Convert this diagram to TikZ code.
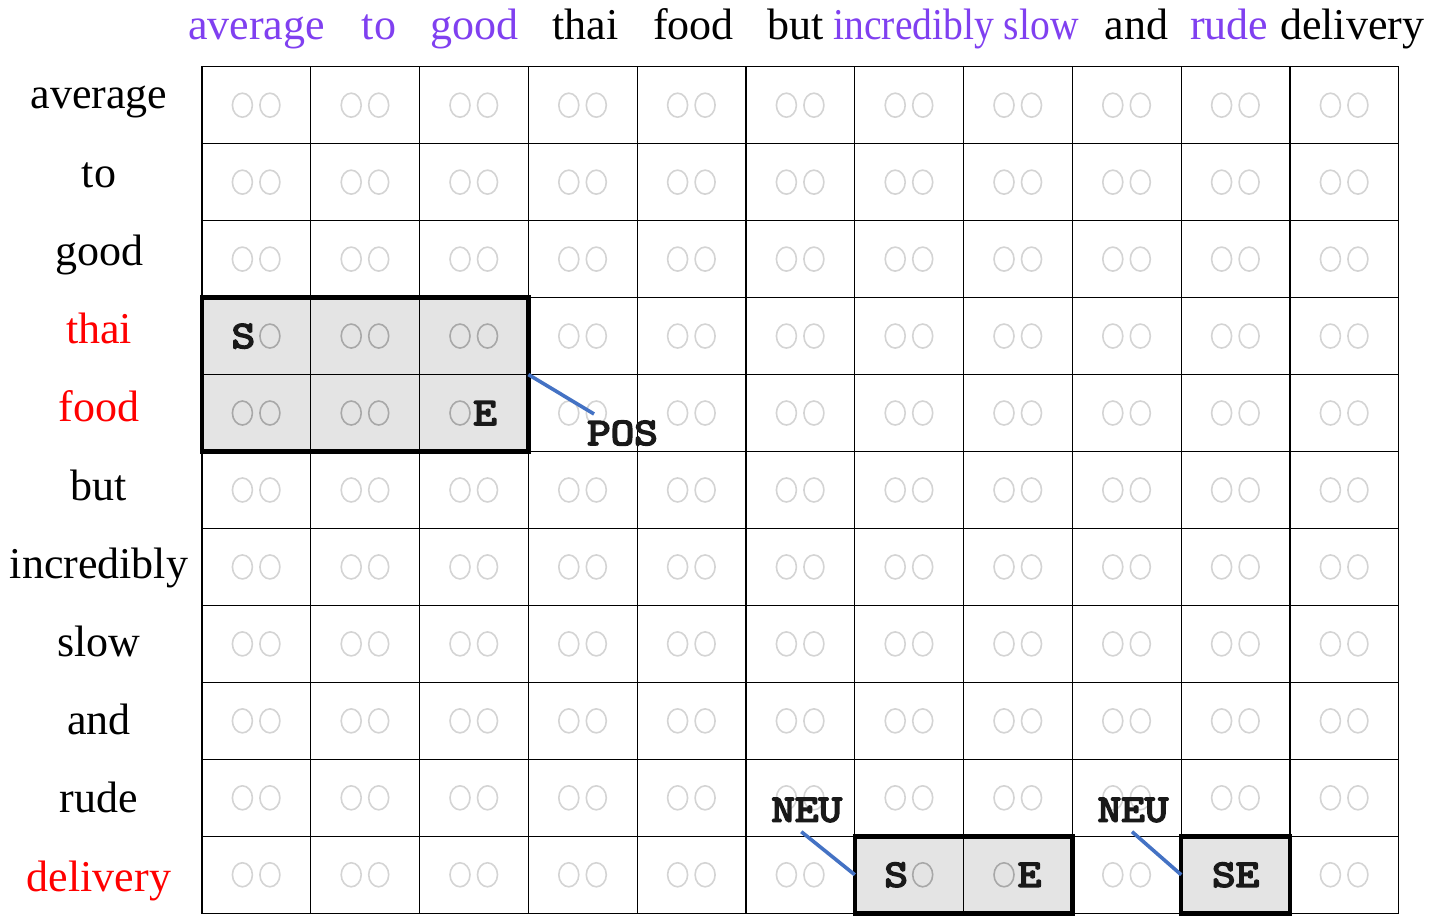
\documentclass[tikz,border=0pt]{standalone}
\usepackage{fontspec}
\setmainfont{Liberation Serif}
\newfontfamily\monob[FakeBold=4]{lmmono10-regular.otf}
\usepackage{graphicx}
\usetikzlibrary{fit}
\definecolor{purp}{RGB}{128,64,240}
\definecolor{hlgray}{RGB}{228,228,228}
\definecolor{lightc}{RGB}{212,212,212}
\definecolor{darkc}{RGB}{168,168,168}
\definecolor{lineblue}{RGB}{68,114,196}
\newcommand{\tg}[1]{\scalebox{1.15}[1]{#1}}
\tikzset{
  cell/.style={rectangle, draw=black, line width=1.2pt, minimum width=108.8pt, minimum height=76.96pt, inner sep=0pt, outer sep=0pt},
  word/.style={font=\fontsize{44}{50}\selectfont, inner sep=0pt, anchor=base},
  tag/.style={font=\monob\fontsize{39}{46}\selectfont, inner sep=0pt, anchor=base, text=black!90},
  hlbox/.style={draw=black, line width=4.5pt, inner sep=0pt, outer sep=0pt},
  conn/.style={draw=lineblue, line width=3.6pt},
  slot/.style={line width=1.6pt},
}
\begin{document}
\begin{tikzpicture}[x=1pt,y=-1pt]
\useasboundingbox (0,0) rectangle (1437,923);
% cells with slots
\foreach \r in {0,...,10} {
  \foreach \c in {0,...,10} {
    \pgfmathsetmacro\cx{202+108.8*(\c+0.5)}
    \pgfmathsetmacro\cy{66.7+76.96*(\r+0.5)}
    \pgfmathtruncatemacro\hl{or(and(or(\r==3,\r==4),\c<3),and(\r==10,or(or(\c==6,\c==7),\c==9)))}
    \pgfmathtruncatemacro\noL{or(and(\r==3,\c==0),and(\r==10,or(\c==6,\c==9)))}
    \pgfmathtruncatemacro\noR{or(and(\r==4,\c==2),and(\r==10,or(\c==7,\c==9)))}
    \ifnum\hl=1 \def\cf{hlgray}\def\sc{darkc}\else\def\cf{white}\def\sc{lightc}\fi
    \node[cell, fill=\cf] (cell-\r-\c) at (\cx,\cy) {};
    \ifnum\noL=0 \draw[slot, draw=\sc] ([xshift=-14pt]cell-\r-\c.center) ellipse [x radius=10pt, y radius=12pt];\fi
    \ifnum\noR=0 \draw[slot, draw=\sc] ([xshift=13.5pt]cell-\r-\c.center) ellipse [x radius=10pt, y radius=12pt];\fi
  }
}
% highlighted spans
\node[hlbox, fit=(cell-3-0)(cell-4-2)] (box1) {};
\node[hlbox, fit=(cell-10-6)(cell-10-7)] (box2) {};
\node[hlbox, fit=(cell-10-9)] (box3) {};
% start / end markers
\node[tag] (s1) at ([xshift=-13pt,yshift=-12pt]cell-3-0.center) {\tg{S}};
\node[tag] (e1) at ([xshift=11pt,yshift=-12pt]cell-4-2.center) {\tg{E}};
\node[tag] (s2) at ([xshift=-13pt,yshift=-12pt]cell-10-6.center) {\tg{S}};
\node[tag] (e2) at ([xshift=11.5pt,yshift=-12pt]cell-10-7.center) {\tg{E}};
\node[tag] (se3) at ([yshift=-12pt]cell-10-9.center) {\tg{SE}};
% polarity labels
\node[tag, anchor=base west] (pos) at (587,445) {\tg{POS}};
\coordinate (posend) at (594,414);
\draw[conn] (box1.east) -- (posend);
\node[tag] (neu1) at (806.7,821.7) {\tg{NEU}};
\coordinate (n1s) at (801.3,831.7);
\draw[conn] (n1s) -- (box2.west);
\node[tag] (neu2) at (1133,821.7) {\tg{NEU}};
\coordinate (n2s) at (1132,831.7);
\draw[conn] (n2s) -- (box3.west);
% header words
\node[word, anchor=base west, text=purp] (h1) at (188,40) {average};
\node[word, anchor=base west, text=purp] (h2) at (361.6,40) {to};
\node[word, anchor=base west, text=purp] (h3) at (429.8,40) {good};
\node[word, anchor=base west] (h4) at (552.5,40) {thai};
\node[word, anchor=base west] (h5) at (653,40) {food};
\node[word, anchor=base west] (h6) at (767.6,40) {but};
\node[word, anchor=base west, text=purp] (h7) at (833.3,40) {\scalebox{0.9}[1]{incredibly slow}};
\node[word, anchor=base west] (h8) at (1104.4,40) {and};
\node[word, anchor=base west, text=purp] (h9) at (1189.8,40) {rude};
\node[word, anchor=base west] (h10) at (1280,40) {delivery};
% row labels
\foreach \w/\col [count=\i from 0] in {average/black, to/black, good/black, thai/red, food/red, but/black, incredibly/black, slow/black, and/black, rude/black, delivery/red} {
  \pgfmathsetmacro\ly{109+78.2*\i}
  \node[word, text=\col] (row-\i) at (99,\ly) {\w};
}
\end{tikzpicture}
\end{document}
